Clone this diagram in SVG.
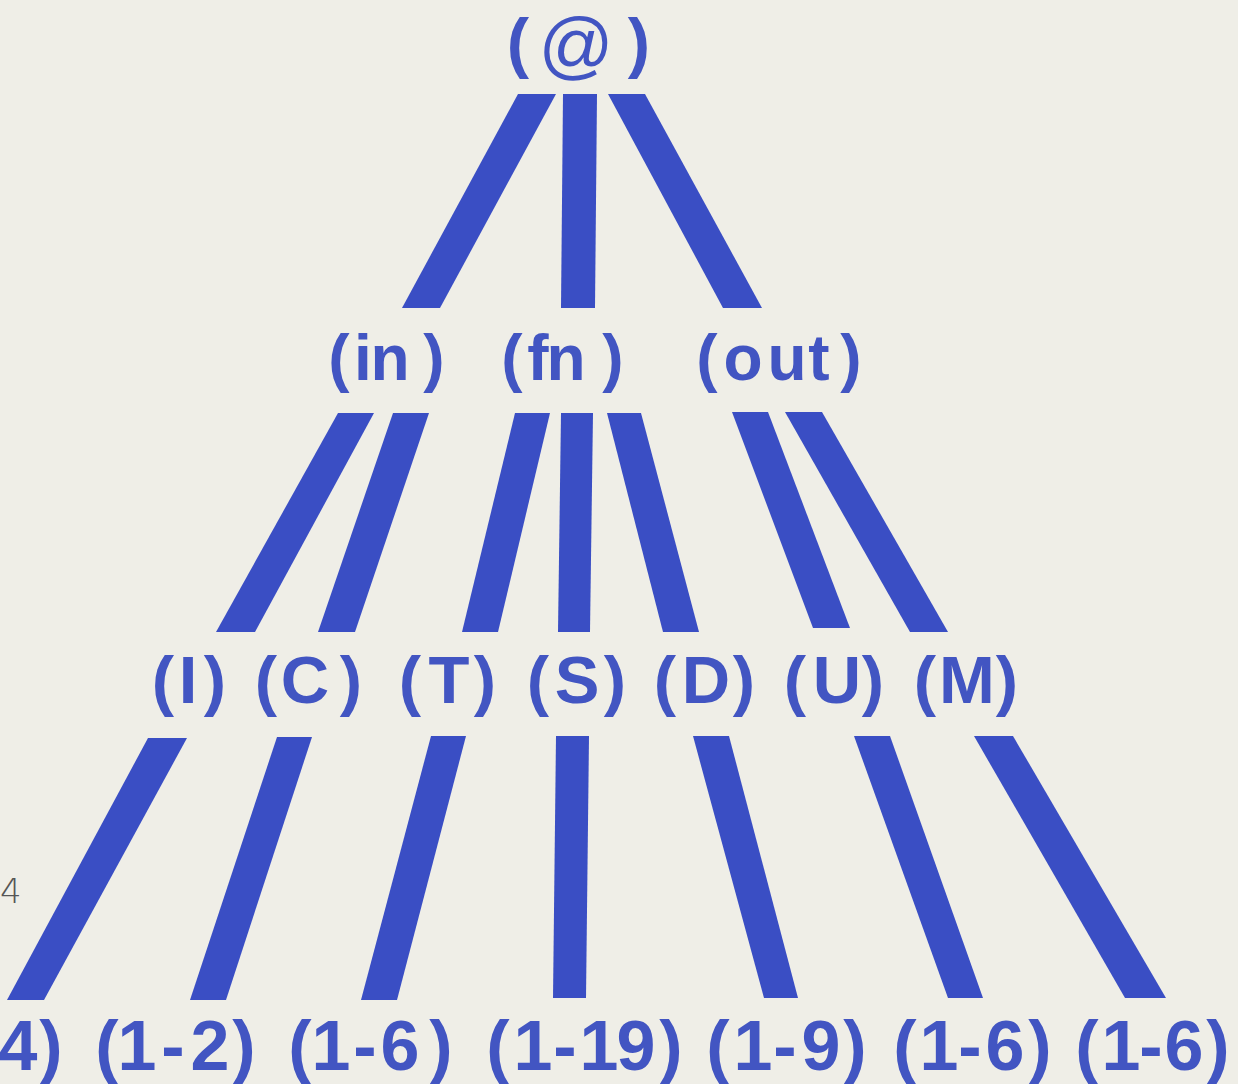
<svg xmlns="http://www.w3.org/2000/svg" width="1238" height="1084" viewBox="0 0 1238 1084">
<style>
.bg{fill:#efeee7}
.bar{fill:#3a4ec4}
.lbl{font-family:"Liberation Sans",Arial,sans-serif;font-weight:bold;fill:#4255c2;text-anchor:middle}
.l1{font-size:67px}
.at{font-size:74px;font-weight:normal}
.l2{font-size:64px}
.l3{font-size:67px}
.l4{font-size:70px}
.pg{font-family:"DejaVu Sans","Liberation Sans",sans-serif;font-weight:200;font-size:34px;fill:#555}
</style>
<rect class="bg" x="0" y="0" width="1238" height="1084"/>
<g id="connectors">
<polygon class="bar" points="518,94 556,94 440,308 402,308"/>
<polygon class="bar" points="563,94 597,94 595,308 561,308"/>
<polygon class="bar" points="608,94 645,94 762,308 723,308"/>
<polygon class="bar" points="338,413 374,413 255,632 216,632"/>
<polygon class="bar" points="393,413 429,413 355,632 318,632"/>
<polygon class="bar" points="515,413 550,413 498,632 462,632"/>
<polygon class="bar" points="561,413 593,413 590,632 558,632"/>
<polygon class="bar" points="607,413 641,413 699,632 663,632"/>
<polygon class="bar" points="732,412 768,412 850,628 813,628"/>
<polygon class="bar" points="785,412 822,412 948,632 910,632"/>
<polygon class="bar" points="148,738 187,738 44,1000 7,1000"/>
<polygon class="bar" points="277,737 312,737 226,1000 190,1000"/>
<polygon class="bar" points="431,736 466,736 397,1000 361,1000"/>
<polygon class="bar" points="556,736 589,736 586,998 553,998"/>
<polygon class="bar" points="693,736 729,736 798,998 764,998"/>
<polygon class="bar" points="854,736 890,736 983,998 948,998"/>
<polygon class="bar" points="974,736 1013,736 1166,998 1125,998"/>
</g>
<g id="root"><text class="lbl l1" y="65"><tspan x="518">(</tspan><tspan class="at" x="576" y="70">@</tspan><tspan x="639" y="65">)</tspan></text></g>
<g id="n-in"><text class="lbl l2" y="380" x="339 363 390 434">(in)</text></g>
<g id="n-fn"><text class="lbl l2" y="380" x="512 538 566 613">(fn)</text></g>
<g id="n-out"><text class="lbl l2" y="380" x="707 743 787 819 851">(out)</text></g>
<g id="n-I"><text class="lbl l3" y="703" x="163 188 215">(I)</text></g>
<g id="n-C"><text class="lbl l3" y="703" x="266 305 351">(C)</text></g>
<g id="n-T"><text class="lbl l3" y="703" x="410 449 485">(T)</text></g>
<g id="n-S"><text class="lbl l3" y="703" x="538 577 615">(S)</text></g>
<g id="n-D"><text class="lbl l3" y="703" x="665 706 744">(D)</text></g>
<g id="n-U"><text class="lbl l3" y="703" x="795 837 873">(U)</text></g>
<g id="n-M"><text class="lbl l3" y="703" x="925 967 1007">(M)</text></g>
<g id="leaf-I"><text class="lbl l4" y="1070" x="18 51">4)</text></g>
<g id="leaf-C"><text class="lbl l4" y="1070" x="107 137 173 210 244">(1-2)</text></g>
<g id="leaf-T"><text class="lbl l4" y="1070" x="300 331 365 400 441">(1-6)</text></g>
<g id="leaf-S"><text class="lbl l4" y="1070" x="498 533 565 599 636 671">(1-19)</text></g>
<g id="leaf-D"><text class="lbl l4" y="1070" x="718 753 785 821 855">(1-9)</text></g>
<g id="leaf-U"><text class="lbl l4" y="1070" x="905 939 970 1005 1040">(1-6)</text></g>
<g id="leaf-M"><text class="lbl l4" y="1070" x="1087 1121 1151 1184 1218">(1-6)</text></g>
<text class="pg" x="0" y="903">4</text>
</svg>
